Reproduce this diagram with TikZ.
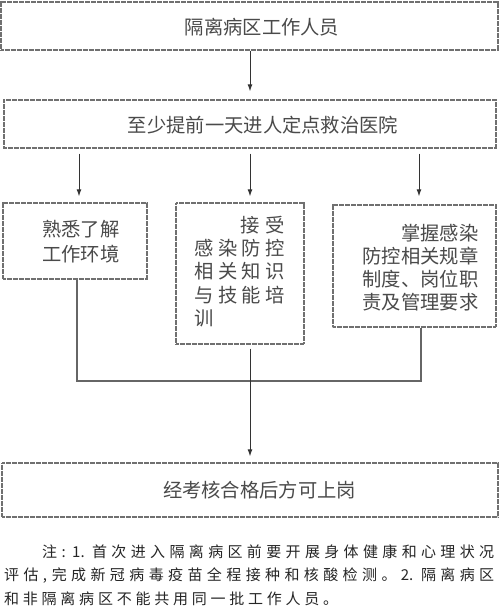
\documentclass[tikz,border=0pt]{standalone}
\usepackage{fontspec}
\setmainfont{Noto Sans CJK SC}
\usetikzlibrary{arrows.meta}
\definecolor{boxline}{HTML}{707070}
\definecolor{boxtext}{HTML}{4A4A4A}
\definecolor{conncol}{HTML}{333333}
\tikzset{
  flowbox/.style={draw=boxline, line width=1.3pt, dash pattern=on 0.8pt off 0.4pt, rectangle, inner sep=0pt, fill=white},
  boxtxt/.style={inner sep=0pt, text=boxtext, font=\fontsize{19.3}{23}\selectfont},
  notetxt/.style={inner sep=0pt, anchor=west, text=black!85, font=\fontsize{15}{20}\selectfont},
  arr/.style={draw=conncol, line width=1pt, -{Latex[length=7pt,width=5pt]}},
  conn/.style={draw=black!60, line width=1.2pt},
}
\begin{document}
\begin{tikzpicture}[x=1pt,y=-1pt]
\useasboundingbox[fill=white] (0,0) rectangle (500,613);
% boxes
\node[flowbox, minimum width=497pt, minimum height=48pt] (box1) at (249.5,26) {};
\node[flowbox, minimum width=492pt, minimum height=48pt] (box2) at (250,124) {};
\node[flowbox, minimum width=144pt, minimum height=76pt] (boxA) at (75,241) {};
\node[flowbox, minimum width=128pt, minimum height=141pt] (boxB) at (240,273.5) {};
\node[flowbox, minimum width=163pt, minimum height=122pt] (boxC) at (414.5,266) {};
\node[flowbox, minimum width=496pt, minimum height=54pt] (boxD) at (250,490) {};
% texts
\node[boxtxt] (t1) at (262,27) {隔离病区工作人员};
\node[boxtxt] (t2) at (263,125) {至少提前一天进人定点救治医院};
\node[boxtxt, anchor=west, align=left, font=\fontsize{19.3}{25}\selectfont] (tA) at (42,241.5) {熟悉了解\\工作环境};
\node[boxtxt, anchor=west, align=left, font=\fontsize{19.3}{23.25}\selectfont] (tB) at (194.5,271.5)
  {\makebox[90pt][r]{接\hspace{6pt}受}\\
   \makebox[90pt][s]{感 染 防 控}\\
   \makebox[90pt][s]{相 关 知 识}\\
   \makebox[90pt][s]{与 技 能 培}\\
   \makebox[90pt][l]{训}};
\node[boxtxt, anchor=east, align=right] (tC) at (478.5,267.5)
  {掌握感染\\防控相关规章\\制度、岗位职\\责及管理要求};
\node[boxtxt] (tD) at (259.5,490) {经考核合格后方可上岗};
% note
\node[notetxt] (n1) at (42,552) {\makebox[452pt][s]{注 : 1. 首 次 进 入 隔 离 病 区 前 要 开 展 身 体 健 康 和 心 理 状 况}};
\node[notetxt] (n2) at (4,576) {\makebox[490pt][s]{评 估 , 完 成 新 冠 病 毒 疫 苗 全 程 接 种 和 核 酸 检 测 。 2. 隔 离 病 区}};
\node[notetxt] (n3) at (4,599) {\makebox[334pt][s]{和 非 隔 离 病 区 不 能 共 用 同 一 批 工 作 人 员 。}};
% coordinates
\coordinate (xm) at (250,0);
\coordinate (xa) at (79,0);
\coordinate (xc) at (419,0);
\coordinate (ja) at (77,381);
\coordinate (jc) at (421,381);
% connectors
\draw[arr, shorten >=8pt] (box1.south -| xm) -- (box2.north -| xm);
\draw[arr, shorten <=5pt, shorten >=6pt] (box2.south -| xa) -- (boxA.north -| xa);
\draw[arr, shorten <=5pt, shorten >=6pt] (box2.south -| xm) -- (boxB.north -| xm);
\draw[arr, shorten <=5pt, shorten >=8pt] (box2.south -| xc) -- (boxC.north -| xc);
\draw[conn] (boxA.south -| ja) -- (ja) -- (jc) -- (boxC.south -| jc);
\draw[arr, shorten <=4pt, shorten >=6pt] (boxB.south -| xm) -- (boxD.north -| xm);
\end{tikzpicture}
\end{document}
